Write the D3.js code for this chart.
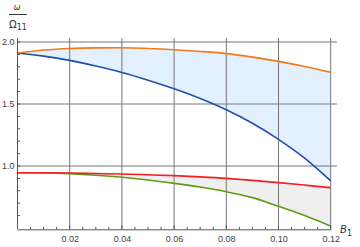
<!DOCTYPE html>
<html>
<head>
<meta charset="utf-8">
<script src="https://cdn.jsdelivr.net/npm/d3@7"></script>
<style>
  body { margin: 0; background: #fff; }
  svg { display: block; font-family: "DejaVu Sans", sans-serif; }
  .tick text { fill: #444; font-size: 9px; }
</style>
</head>
<body>
<svg id="chart"></svg>
<script>
// B1 values shared by all curves
var b1 = [0, 0.01, 0.02, 0.03, 0.04, 0.05, 0.06, 0.07, 0.08, 0.09, 0.10, 0.11, 0.12];
// upper band
var orangeVals = [1.911, 1.935, 1.948, 1.953, 1.954, 1.948, 1.938, 1.924, 1.906, 1.878, 1.844, 1.802, 1.755];
var blueVals   = [1.911, 1.886, 1.852, 1.806, 1.754, 1.692, 1.623, 1.545, 1.454, 1.345, 1.215, 1.063, 0.880];
// lower band
var redVals    = [0.946, 0.945, 0.943, 0.939, 0.935, 0.929, 0.922, 0.912, 0.900, 0.884, 0.866, 0.846, 0.825];
var greenVals  = [0.946, 0.944, 0.937, 0.925, 0.909, 0.887, 0.860, 0.830, 0.793, 0.745, 0.675, 0.600, 0.515];

var xTicks = [0.02, 0.04, 0.06, 0.08, 0.10, 0.12];
var yTicks = [1.0, 1.5, 2.0];

var width = 360, height = 247;
var svg = d3.select("#chart").attr("width", width).attr("height", height);

var x = d3.scaleLinear().domain([0, 0.12]).range([17.5, 330.7]);
var y = d3.scaleLinear().domain([1, 2]).range([166, 42]);
var plotTop = 38, plotBottom = 229.3, plotRight = 337;

function pts(vals) { return b1.map(function(d, i) { return [d, vals[i]]; }); }

var line = d3.line()
	.x(function(d) { return x(d[0]); })
	.y(function(d) { return y(d[1]); })
	.curve(d3.curveMonotoneX);

var band = d3.area()
	.x(function(d, i) { return x(b1[i]); })
	.y0(function(d) { return y(d[0]); })
	.y1(function(d) { return y(d[1]); })
	.curve(d3.curveMonotoneX);

// fills
svg.append("path")
	.datum(orangeVals.map(function(v, i) { return [v, blueVals[i]]; }))
	.attr("d", band)
	.attr("fill", "#e2f0ff");
svg.append("path")
	.datum(redVals.map(function(v, i) { return [v, greenVals[i]]; }))
	.attr("d", band)
	.attr("fill", "#efefef");

// grid
svg.append("g").selectAll("line").data(xTicks).enter().append("line")
	.attr("x1", function(d) { return x(d); }).attr("x2", function(d) { return x(d); })
	.attr("y1", plotTop).attr("y2", plotBottom)
	.attr("stroke", "#777").attr("stroke-width", 1);
svg.append("g").selectAll("line").data(yTicks).enter().append("line")
	.attr("x1", x(0)).attr("x2", plotRight)
	.attr("y1", function(d) { return y(d); }).attr("y2", function(d) { return y(d); })
	.attr("stroke", "#777").attr("stroke-width", 1);

// curves
[[blueVals, "#1f4fa8"], [orangeVals, "#f07a1a"], [greenVals, "#5c9c14"], [redVals, "#f22020"]].forEach(function(s) {
	svg.append("path")
		.datum(pts(s[0]))
		.attr("d", line)
		.attr("fill", "none")
		.attr("stroke", s[1])
		.attr("stroke-width", 1.6);
});

// x axis
var xAxis = svg.append("g")
	.attr("transform", "translate(0," + plotBottom + ")")
	.call(d3.axisBottom(x).tickValues(xTicks).tickSize(0).tickPadding(5).tickFormat(d3.format(".2f")));
xAxis.select(".domain").attr("stroke", "#555");
xAxis.selectAll(".tick text").attr("dy", "0.85em");
xAxis.selectAll(".minor").data(d3.range(0.005, 0.1201, 0.005)).enter().append("line")
	.attr("x1", function(d) { return x(d); }).attr("x2", function(d) { return x(d); })
	.attr("y1", 0).attr("y2", function(d, i) { return (i % 4 == 3) ? -4 : -2.5; })
	.attr("stroke", "#555");

// y axis
var yAxis = svg.append("g")
	.attr("transform", "translate(" + x(0) + ",0)")
	.call(d3.axisLeft(y).tickValues(yTicks).tickSize(0).tickPadding(3).tickFormat(d3.format(".1f")));
yAxis.select(".domain").attr("d", "M0," + plotTop + "V" + plotBottom).attr("stroke", "#555");
yAxis.selectAll(".minor").data(d3.range(0.6, 2.01, 0.1)).enter().append("line")
	.attr("x1", 0).attr("x2", 2.5)
	.attr("y1", function(d) { return y(d); }).attr("y2", function(d) { return y(d); })
	.attr("stroke", "#555");

// axis labels
var lab = svg.append("g").attr("fill", "#333");
lab.append("text").attr("x", 17).attr("y", 10).attr("text-anchor", "middle")
	.attr("font-size", 8).attr("font-style", "italic").text("ω");
lab.append("line").attr("x1", 9).attr("x2", 27).attr("y1", 14.5).attr("y2", 14.5)
	.attr("stroke", "#333").attr("stroke-width", 1);
var om = lab.append("text").attr("x", 9).attr("y", 28).attr("font-size", 10);
om.append("tspan").text("Ω");
om.append("tspan").attr("font-size", 8).attr("dy", 2).text("11");

var bl = lab.append("text").attr("x", 340).attr("y", 233).attr("font-size", 10);
bl.append("tspan").attr("font-style", "italic").text("B");
bl.append("tspan").attr("font-size", 8).attr("dy", 3).text("1");
</script>
</body>
</html>
